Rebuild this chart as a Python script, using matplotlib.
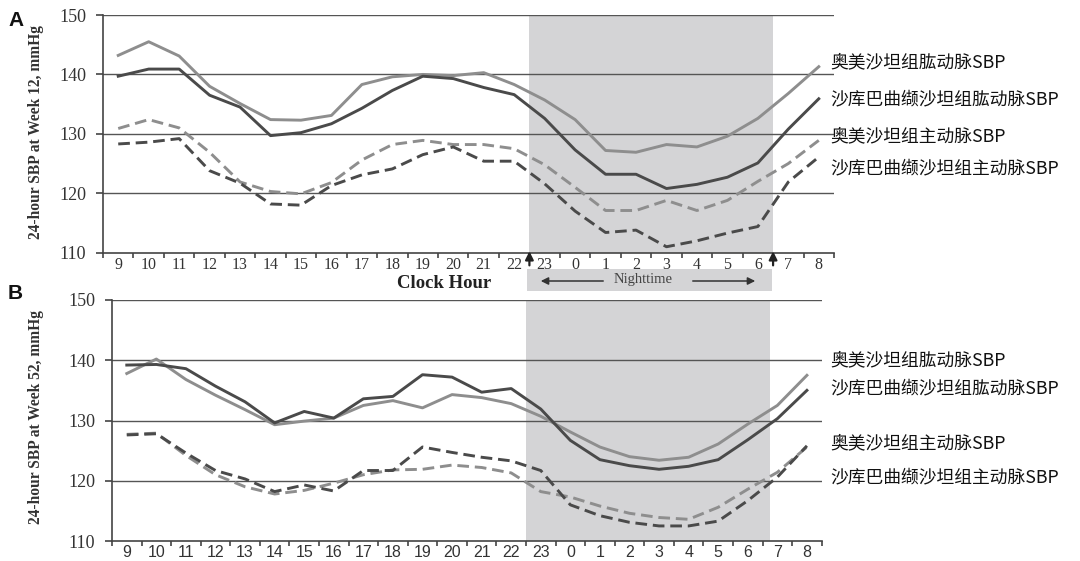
import matplotlib
matplotlib.use("Agg")
import matplotlib.pyplot as plt
from matplotlib.patches import Rectangle, FancyArrowPatch

hours = ["9", "10", "11", "12", "13", "14", "15", "16", "17", "18", "19", "20",
         "21", "22", "23", "0", "1", "2", "3", "4", "5", "6", "7", "8"]

series_labels = ["奥美沙坦组肱动脉SBP", "沙库巴曲缬沙坦组肱动脉SBP",
                 "奥美沙坦组主动脉SBP", "沙库巴曲缬沙坦组主动脉SBP"]

# Panel A (Week 12)
a_olm_brachial = [143.2, 145.5, 143.1, 138.0, 135.1, 132.4, 132.3, 133.1, 138.3, 139.6, 140.0, 139.8,
                  140.3, 138.3, 135.7, 132.4, 127.2, 126.9, 128.2, 127.8, 129.6, 132.6, 136.8, 141.3]
a_sac_brachial = [139.7, 140.9, 140.9, 136.5, 134.5, 129.7, 130.2, 131.7, 134.3, 137.3, 139.7, 139.3,
                  137.8, 136.6, 132.6, 127.3, 123.2, 123.2, 120.8, 121.5, 122.7, 125.1, 130.8, 135.9]
a_olm_aortic = [130.9, 132.4, 131.0, 126.9, 121.9, 120.3, 119.9, 121.8, 125.6, 128.2, 128.9, 128.2,
                128.2, 127.5, 124.8, 121.0, 117.1, 117.1, 118.8, 117.1, 118.8, 122.0, 125.0, 128.9]
a_sac_aortic = [128.3, 128.6, 129.2, 123.8, 121.7, 118.2, 118.0, 121.3, 123.1, 124.1, 126.5, 127.8,
                125.4, 125.4, 121.6, 117.0, 113.4, 113.8, 111.0, 112.0, 113.3, 114.4, 121.9, 126.1]

# Panel B (Week 52)
b_olm_brachial = [137.8, 140.2, 136.8, 134.2, 131.8, 129.3, 129.9, 130.4, 132.5, 133.3, 132.1, 134.3,
                  133.8, 132.8, 130.7, 128.1, 125.6, 124.0, 123.4, 123.9, 126.1, 129.4, 132.5, 137.5]
b_sac_brachial = [139.2, 139.3, 138.6, 135.7, 133.1, 129.6, 131.5, 130.4, 133.6, 134.0, 137.6, 137.2,
                  134.7, 135.3, 131.9, 126.7, 123.5, 122.5, 121.9, 122.4, 123.5, 126.8, 130.3, 135.0]
b_olm_aortic = [127.7, 127.9, 124.2, 121.0, 119.0, 117.8, 118.4, 119.6, 121.0, 121.8, 121.9, 122.6,
                122.2, 121.3, 118.2, 117.3, 115.8, 114.6, 113.9, 113.6, 115.6, 118.6, 121.4, 125.6]
b_sac_aortic = [127.6, 127.8, 124.6, 121.7, 120.3, 118.2, 119.3, 118.3, 121.7, 121.7, 125.6, 124.7,
                123.9, 123.3, 121.7, 116.0, 114.2, 113.1, 112.5, 112.5, 113.3, 116.7, 120.6, 125.8]

yticks = [110, 120, 130, 140, 150]

W, H = 1080, 561
fig = plt.figure(figsize=(W / 100, H / 100), dpi=100)

DARK = "#4a4a4a"
LIGHT = "#8e8e8e"
SHADE = "#d4d4d6"
GRID = "#555555"
SERIF = "Liberation Serif"
SANS = "Liberation Sans"
CJK = ["Noto Sans CJK SC", "DejaVu Sans"]


def rect(l, r, t, b):
    return [l / W, 1 - b / H, (r - l) / W, (b - t) / H]


def fx(px):
    return px / W


def fy(py):
    return 1 - py / H


def make_panel(box, data, shade_end, tick_font):
    ax = fig.add_axes(rect(*box))
    x = list(range(len(hours)))
    ax.set_xlim(-0.5, len(hours) - 0.5)
    ax.set_ylim(110, 150)
    ax.add_patch(Rectangle((13.5, 110), shade_end - 13.5, 40, facecolor=SHADE,
                           edgecolor="none", zorder=0))
    for yv in [120, 130, 140, 150]:
        ax.axhline(yv, color=GRID, lw=1.0, zorder=1)
    olm_b, sac_b, olm_a, sac_a = data
    ax.plot(x, olm_b, color=LIGHT, lw=2.1, zorder=3)
    ax.plot(x, sac_b, color=DARK, lw=2.1, zorder=4)
    ax.plot(x, olm_a, color=LIGHT, lw=2.1, ls=(0, (4, 2)), zorder=3)
    ax.plot(x, sac_a, color=DARK, lw=2.1, ls=(0, (4, 2)), zorder=4)
    for s in ["top", "right"]:
        ax.spines[s].set_visible(False)
    for s in ["left", "bottom"]:
        ax.spines[s].set_color("#444444")
        ax.spines[s].set_linewidth(1.2)
    ax.set_yticks(yticks)
    ax.set_yticklabels([str(v) for v in yticks], fontfamily=SERIF, fontsize=13, color="#333333")
    ax.tick_params(axis="y", direction="out", length=5, width=1.2, color="#444444", pad=7)
    ax.set_xticks(x)
    ax.set_xticklabels(hours, fontfamily=tick_font, fontsize=11.5, color="#333333")
    ax.set_xticks([i - 0.5 for i in range(len(hours) + 1)], minor=True)
    ax.tick_params(axis="x", which="major", length=0, pad=3)
    ax.tick_params(axis="x", which="minor", direction="out", length=3.5, width=1.2, color="#444444")
    return ax


axA = make_panel((103, 834, 15, 252.7),
                 (a_olm_brachial, a_sac_brachial, a_olm_aortic, a_sac_aortic), 21.5, SERIF)
axB = make_panel((112, 821.7, 300, 541),
                 (b_olm_brachial, b_sac_brachial, b_olm_aortic, b_sac_aortic), 21.75, SANS)

fig.text(fx(36), fy(132), "24-hour SBP at Week 12, mmHg", rotation=90, fontfamily=SERIF,
         fontsize=11.2, fontweight="bold", ha="center", va="center", color="#333333")
fig.text(fx(36), fy(417), "24-hour SBP at Week 52, mmHg", rotation=90, fontfamily=SERIF,
         fontsize=11.2, fontweight="bold", ha="center", va="center", color="#333333")

# up arrows at night start/end in panel A
for xv in [13.5, 21.5]:
    axA.annotate("", xy=(xv, 110.7), xytext=(xv, 107.4),
                 arrowprops=dict(arrowstyle="-|>", color="#222222", lw=1.6, mutation_scale=12),
                 annotation_clip=False, zorder=6)

# Nighttime box below panel A
fig.add_artist(Rectangle((fx(527), fy(291)), (772 - 527) / W, 22 / H,
                         transform=fig.transFigure, facecolor=SHADE, edgecolor="none", zorder=1))
fig.text(fx(643), fy(280), "Nighttime", fontfamily=SERIF, fontsize=10.5,
         ha="center", va="center", color="#444444", zorder=5)
fig.add_artist(FancyArrowPatch((fx(606), fy(281)), (fx(538), fy(281)),
               transform=fig.transFigure, arrowstyle="-|>", mutation_scale=11, lw=1.1,
               color="#333333", zorder=5))
fig.add_artist(FancyArrowPatch((fx(690), fy(281)), (fx(758), fy(281)),
               transform=fig.transFigure, arrowstyle="-|>", mutation_scale=11, lw=1.1,
               color="#333333", zorder=5))

fig.text(fx(444), fy(283), "Clock Hour", fontfamily=SERIF, fontsize=13.5,
         fontweight="bold", ha="center", va="center", color="#222222")

fig.text(fx(8), fy(20), "A", fontfamily=SANS, fontsize=15, fontweight="bold",
         ha="left", va="center", color="#111111")
fig.text(fx(8), fy(293), "B", fontfamily=SANS, fontsize=15, fontweight="bold",
         ha="left", va="center", color="#111111")

# series labels at right
for lab, yp in zip(series_labels, [62, 99, 136, 168]):
    fig.text(fx(830), fy(yp), lab, family=CJK, fontsize=12.8, ha="left", va="center", color="#111111")
for lab, yp in zip(series_labels, [360, 388, 443, 477]):
    fig.text(fx(830), fy(yp), lab, family=CJK, fontsize=12.8, ha="left", va="center", color="#111111")

fig.savefig("out.png", dpi=100)
